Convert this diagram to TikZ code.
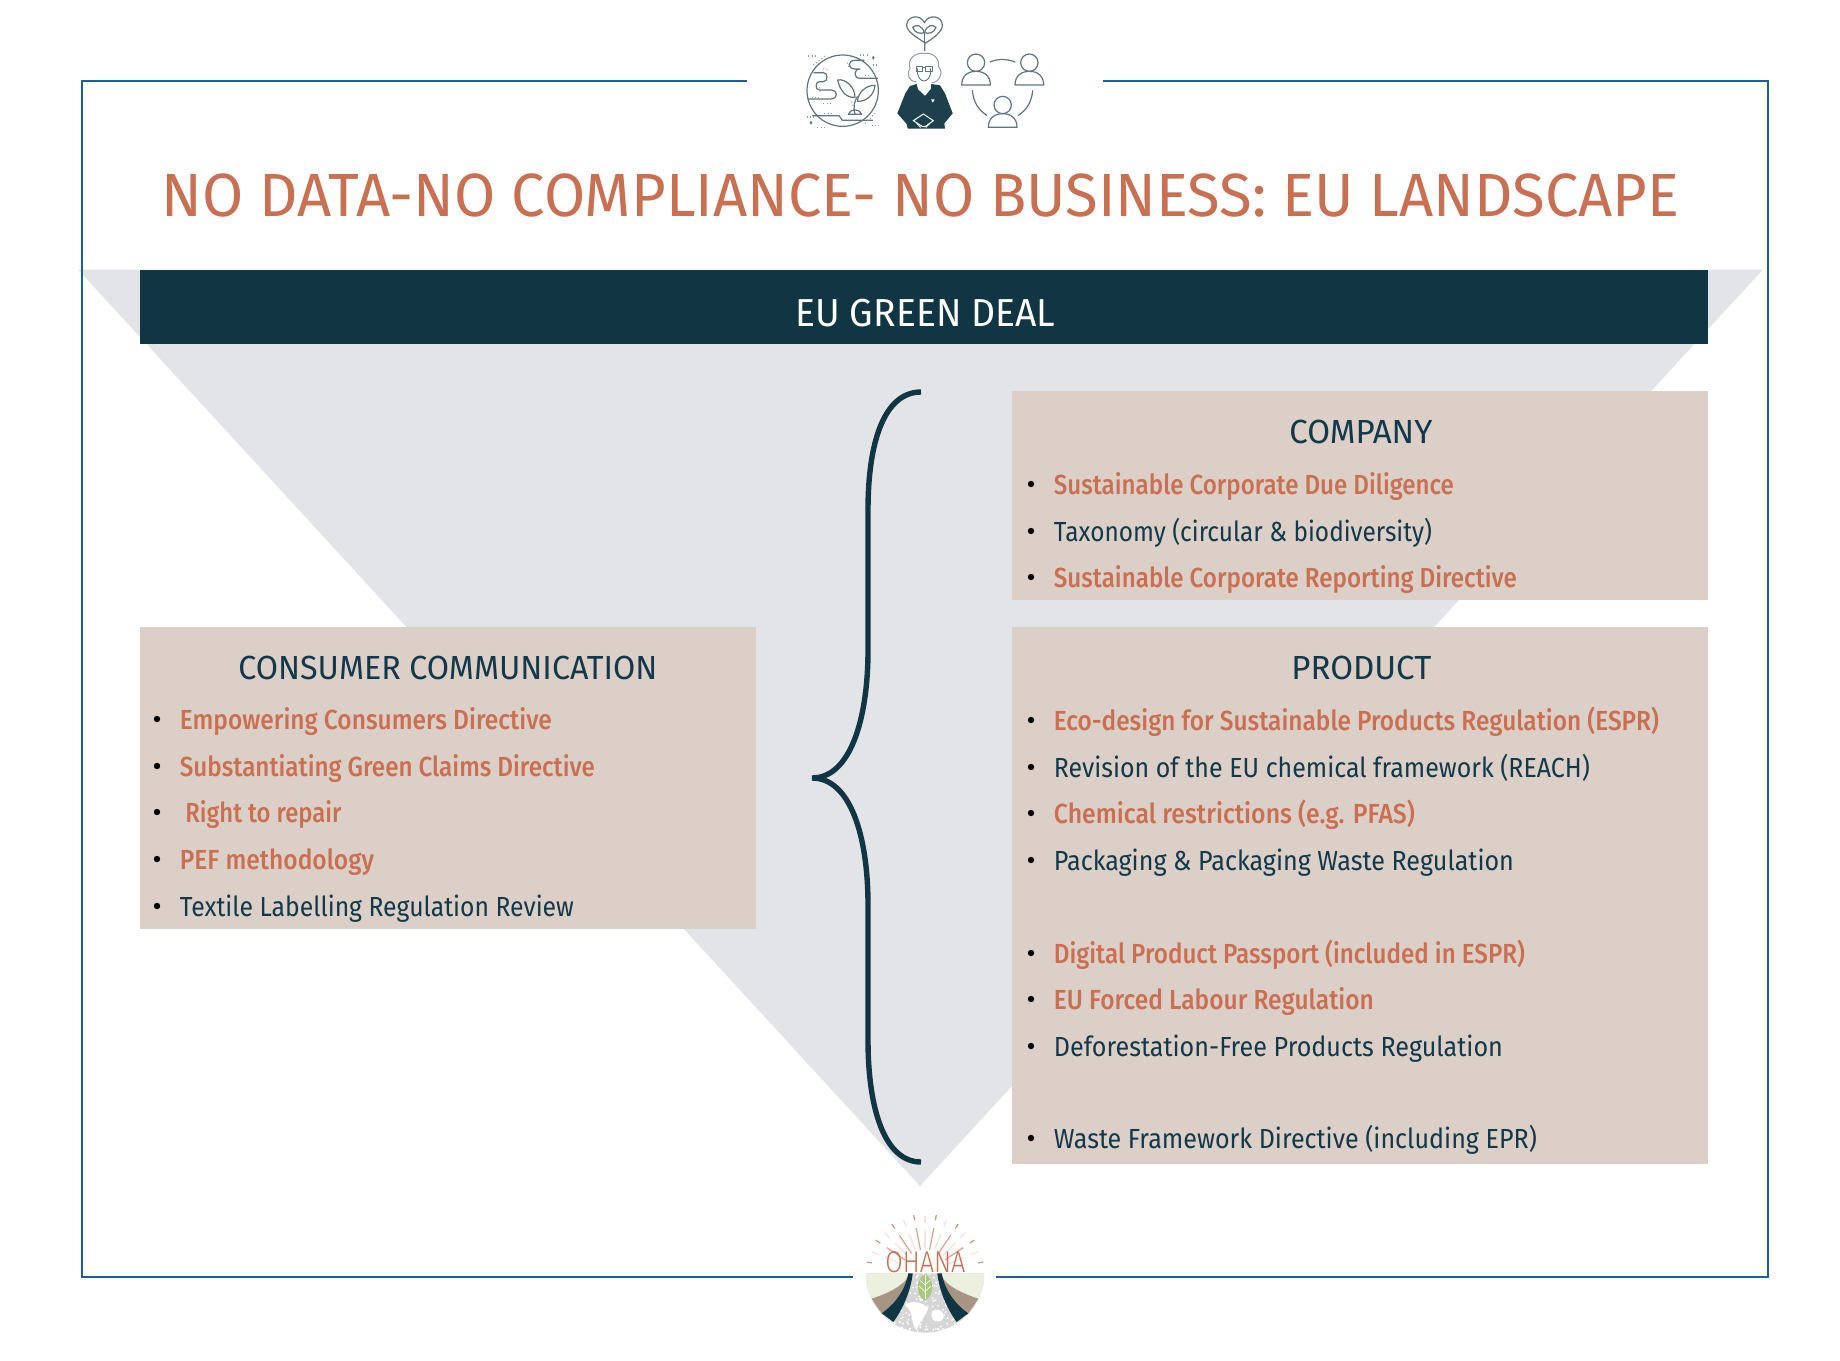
\documentclass[tikz,border=0pt]{standalone}
\usepackage{fontspec}
\usepackage{graphicx}
\setmainfont{Fira Sans}
\newfontfamily\medf{Fira Sans Medium}
\newfontfamily\lightf{Fira Sans Light}
\definecolor{framec}{HTML}{1F5F99}
\definecolor{trig}{HTML}{E3E4E8}
\definecolor{barc}{HTML}{123544}
\definecolor{boxc}{HTML}{DCCFC7}
\definecolor{salm}{HTML}{C96F52}
\definecolor{darkt}{HTML}{12384A}
\definecolor{icon}{HTML}{5F7680}
\definecolor{iconfill}{HTML}{1E3F4C}
\definecolor{lgreen}{HTML}{EBF0DF}
\definecolor{leafg}{HTML}{A9C87C}
\definecolor{tanb}{HTML}{A89483}
\definecolor{rayf}{HTML}{F3E4DD}
\newcommand{\fitw}[2]{\resizebox{\dimexpr #1pt/2\relax}{\height}{#2}}
% name, left x, baseline y, right x, colour, text
\newcommand{\itm}[6]{%
  \fill[black] (#2-23,#3-9) circle (3.2);
  \node[itemtxt,text=#5] (#1) at (#2-0.5,#3+1) {\fitw{\numexpr #4-#2\relax}{#6}};}
\newcommand{\head}[5]{%
  \node[headtxt] (#1) at (#2-1,#3+0.5) {\fitw{\numexpr #4-#2+1\relax}{#5}};}
\tikzset{
  itemtxt/.style={anchor=base west,inner sep=0pt,font=\fontsize{13.8}{16}\selectfont},
  headtxt/.style={anchor=base west,inner sep=0pt,text=darkt,font=\fontsize{16.7}{20}\selectfont},
  frameline/.style={draw=framec,line width=1pt},
  ico/.style={draw=icon,line width=0.6pt,line cap=round,line join=round},
  dots/.style={draw=icon!70,line width=0.55pt,dash pattern=on 0.5pt off 1.2pt},
}
\begin{document}
\begin{tikzpicture}[x=0.5pt,y=-0.5pt]
\useasboundingbox (0,0) rectangle (1840,1360);
\fill[white] (0,0) rectangle (1840,1360);
% triangle
\fill[trig] (78,269.5) -- (1763,269.5) -- (920,1186) -- cycle;
% frame
\coordinate (ftl) at (747,81);
\coordinate (ftr) at (1103,81);
\coordinate (fbl) at (853,1277);
\coordinate (fbr) at (996,1277);
\draw[frameline] (ftl) -- (82,81) -- (82,1277) -- (fbl);
\draw[frameline] (ftr) -- (1768,81) -- (1768,1277) -- (fbr);
% title and bar
\node[anchor=base west,inner sep=0pt,text=salm,font=\fontsize{30.5}{34}\selectfont] (title) at (161,216) {\fitw{1518}{NO DATA-NO COMPLIANCE- NO BUSINESS: EU LANDSCAPE}};
\fill[barc] (140,269.5) rectangle (1708,344);
\node[anchor=base west,inner sep=0pt,text=white,font=\fontsize{19.5}{22}\selectfont] (deal) at (795,326) {\fitw{260}{EU GREEN DEAL}};
% panels
\fill[boxc] (1012,391) rectangle (1708,600);
\fill[boxc] (1012,627) rectangle (1708,1164);
\fill[boxc] (140,627) rectangle (756,929);
% brace
\draw[barc,line width=2.7pt] (921,392) .. controls (885,392) and (868,440) .. (868,510) -- (868,650)
  .. controls (868,720) and (850,778) .. (812,778) .. controls (850,778) and (868,835) .. (868,905)
  -- (868,1040) .. controls (868,1110) and (885,1162) .. (921,1162);
% company
\head{hcomp}{1290}{443}{1432}{COMPANY}
\itm{c1}{1054}{493}{1454}{salm}{\medf Sustainable Corporate Due Diligence}
\itm{c2}{1054}{540}{1432}{darkt}{Taxonomy (circular \& biodiversity)}
\itm{c3}{1054}{586}{1517}{salm}{\medf Sustainable Corporate Reporting Directive}
% product
\head{hprod}{1292}{679}{1431}{PRODUCT}
\itm{p1}{1054}{729}{1659}{salm}{\medf Eco-design for Sustainable Products Regulation (ESPR)}
\itm{p2}{1054}{776}{1590}{darkt}{Revision of the EU chemical framework (REACH)}
\itm{p3}{1054}{822}{1415}{salm}{\medf Chemical restrictions (e.g. PFAS)}
\itm{p4}{1054}{869}{1514}{darkt}{Packaging \& Packaging Waste Regulation}
\itm{p5}{1054}{962}{1525}{salm}{\medf Digital Product Passport (included in ESPR)}
\itm{p6}{1054}{1008}{1374}{salm}{\medf EU Forced Labour Regulation}
\itm{p7}{1054}{1055}{1503}{darkt}{Deforestation-Free Products Regulation}
\itm{p8}{1054}{1147}{1537}{darkt}{Waste Framework Directive (including EPR)}
% consumer
\head{hcons}{239}{679}{657}{CONSUMER COMMUNICATION}
\itm{k1}{180}{728}{552}{salm}{\medf Empowering Consumers Directive}
\itm{k2}{180}{775}{595}{salm}{\medf Substantiating Green Claims Directive}
\fill[black] (157,812) circle (3.2);
\node[itemtxt,text=salm] (k3) at (185,822) {\fitw{156}{\medf Right to repair}};
\itm{k4}{180}{868}{374}{salm}{\medf PEF methodology}
\itm{k5}{180}{915}{574}{darkt}{Textile Labelling Regulation Review}
% top icons (coordinates in 3x crop)
\begin{scope}[shift={(760,0)},x=0.16667pt,y=-0.16667pt]
  % earth
  \draw[ico] (248,272) circle (107);
  \draw[ico] (312,181) -- (285,181) .. controls (262,181) and (262,207) .. (285,207) -- (300,207)
     .. controls (280,207) and (280,235) .. (300,235) -- (352,235);
  \draw[ico] (162,218) -- (190,218) .. controls (205,218) and (205,245) .. (190,245) -- (178,245)
     .. controls (165,245) and (165,270) .. (178,270) -- (212,270) .. controls (235,270) and (235,297) .. (212,297) -- (145,297);
  \draw[ico] (158,347) -- (237,347) -- (247,361) -- (338,361);
  \draw[ico] (285,342) .. controls (278,320) and (285,300) .. (292,290);
  \draw[ico] (233,240) .. controls (255,235) and (285,260) .. (285,292) .. controls (255,295) and (238,265) .. (233,240) -- cycle;
  \draw[ico] (345,256) .. controls (320,255) and (295,275) .. (292,304) .. controls (320,305) and (342,285) .. (345,256) -- cycle;
  \draw[ico] (265,343) .. controls (270,325) and (300,325) .. (305,343) -- cycle;
  \foreach \a/\b/\c/\d in {145/168/168/168,300/165/322/165,338/195/358/195,155/292/182/292,190/311/212/311,193/340/218/340,140/351/162/351,172/382/196/382,335/376/358/376,160/195/195/168,190/205/208/212,262/188/268/205,178/262/180/275,275/305/280/320,315/370/350/335,315/226/332/226}
    \draw[dots] (\a,\b) -- (\c,\d);
  \fill[icon] (340,167) -- (344,173) -- (340,179) -- (336,173) -- cycle;
  \fill[icon] (153,362) -- (157,368) -- (153,374) -- (149,368) -- cycle;
  % heart
  \draw[ico] (494,152) -- (494,128) .. controls (470,112) and (440,95) .. (440,76) .. controls (440,48) and (480,40) .. (493,68)
    .. controls (507,40) and (547,48) .. (547,76) .. controls (547,95) and (520,115) .. (495,130);
  \draw[ico] (493,128) -- (493,98);
  \draw[ico] (493,98) .. controls (485,75) and (470,72) .. (458,82) .. controls (465,100) and (480,102) .. (493,98);
  \draw[ico] (493,98) .. controls (501,75) and (516,72) .. (528,82) .. controls (521,100) and (506,102) .. (493,98);
  % person
  \draw[icon!70,line width=0.5pt] (470,245) .. controls (445,245) and (440,225) .. (450,205) .. controls (440,175) and (468,158) .. (490,160)
     .. controls (522,156) and (540,178) .. (535,200) .. controls (552,215) and (538,248) .. (515,248);
  \draw[icon,line width=0.45pt] (472,205) .. controls (470,235) and (485,243) .. (492,243) .. controls (500,243) and (514,235) .. (512,205);
  \draw[icon,line width=0.45pt] (468,198) rectangle (488,214);
  \draw[icon,line width=0.45pt] (496,198) rectangle (516,214);
  \draw[icon,line width=0.45pt] (488,203) -- (496,203);
  \fill[iconfill] (470,252) -- (474,268) -- (495,288) -- (512,268) -- (514,252) -- (540,256) -- (555,280) -- (578,340) -- (553,370) -- (555,386)
     -- (443,386) -- (440,372) -- (412,340) -- (436,280) -- (450,258) -- cycle;
  \fill[white] (513,298) -- (524,298) -- (518.5,308) -- cycle;
  \draw[white,line width=0.5pt] (460,362) -- (490,342) -- (520,362) -- (495,380) -- (488,380) -- cycle;
  \fill[iconfill] (490,348) -- (505,358) -- (490,366) -- (475,358) -- cycle;
  \draw[white,line width=0.45pt] (470,370) -- (482,382);
  \draw[white,line width=0.45pt] (510,370) -- (498,382);
  % people
  \foreach \cx/\cy in {648/188,808/188,728/315}{
    \draw[ico] (\cx,\cy) circle (26);
    \draw[ico] (\cx-43,\cy+67) .. controls (\cx-43,\cy+40) and (\cx-25,\cy+26) .. (\cx,\cy+26)
       .. controls (\cx+25,\cy+26) and (\cx+43,\cy+40) .. (\cx+43,\cy+67) -- cycle;
  }
  \draw[ico] (690,186) .. controls (712,176) and (742,176) .. (765,186);
  \draw[ico] (637,272) .. controls (640,305) and (655,330) .. (680,346);
  \draw[ico] (818,272) .. controls (815,305) and (800,330) .. (775,346);
\end{scope}
% logo (coordinates relative to the disc centre, in 3x crop)
\begin{scope}[shift={(925,1273.3)},x=0.16667pt,y=-0.16667pt]
  \begin{scope}
    \clip (-178,0) arc (180:0:178) -- cycle;
    \fill[black!16] (-178,0) rectangle (178,178);
    \pgfmathsetseed{7}
    \foreach \i in {1,...,260}{
      \pgfmathsetmacro{\px}{rnd*300-150}
      \pgfmathsetmacro{\py}{rnd*175}
      \fill[white] (\px,\py) circle (3);
    }
    \fill[white] (-60,95) .. controls (-40,80) and (-10,85) .. (10,105) .. controls (0,130) and (-20,150) .. (-25,170) .. controls (-45,150) and (-30,120) .. (-60,95) -- cycle;
    \fill[white] (20,115) .. controls (40,100) and (60,115) .. (55,135) .. controls (40,155) and (15,145) .. (20,115) -- cycle;
    \foreach \s in {1,-1}{
      \begin{scope}[xscale=\s]
        \fill[lgreen] (-180,0) -- (-48,0) .. controls (-60,35) and (-110,60) .. (-160,78) -- (-185,78) -- cycle;
        \fill[tanb] (-50,8) .. controls (-60,35) and (-110,60) .. (-160,76) -- (-130,120) .. controls (-90,90) and (-60,50) .. (-44,8) -- cycle;
        \fill[barc] (-50,0) -- (-37,0) .. controls (-42,50) and (-65,105) .. (-95,146) -- (-130,120) .. controls (-85,88) and (-58,45) .. (-50,0) -- cycle;
      \end{scope}
    }
    \fill[leafg] (0,2) .. controls (-30,20) and (-28,65) .. (0,82) .. controls (28,65) and (30,20) .. (0,2) -- cycle;
    \draw[white,line width=0.3pt] (0,5) -- (0,78);
    \draw[white,line width=0.3pt] (0,35) -- (-16,20) (0,35) -- (16,20) (0,55) -- (-18,38) (0,55) -- (18,38);
  \end{scope}
  \foreach \a in {11,56,101,146,79,124,169,34}{
    \draw[salm!75,line width=0.6pt] (-\a:162) -- (-\a:178);
  }
  \foreach \a in {90,22,45,68,112,135,158}{
    \draw[rayf,line width=0.6pt] (-\a:150) -- (-\a:172);
  }
  \foreach \a in {79,101,56,124,34,146}{
    \draw[salm!65,line width=0.6pt] (-\a:72) -- (-\a:138);
  }
  \foreach \a in {90,68,112,45,135,22,158}{
    \draw[rayf,line width=0.6pt] (-\a:75) -- (-\a:128);
  }
  \node[anchor=base west,inner sep=0pt,text=salm,font=\fontsize{15}{16}\selectfont] (ohana) at (-120,-3) {\fitw{80}{\lightf OHANA}};
\end{scope}
\end{tikzpicture}
\end{document}
